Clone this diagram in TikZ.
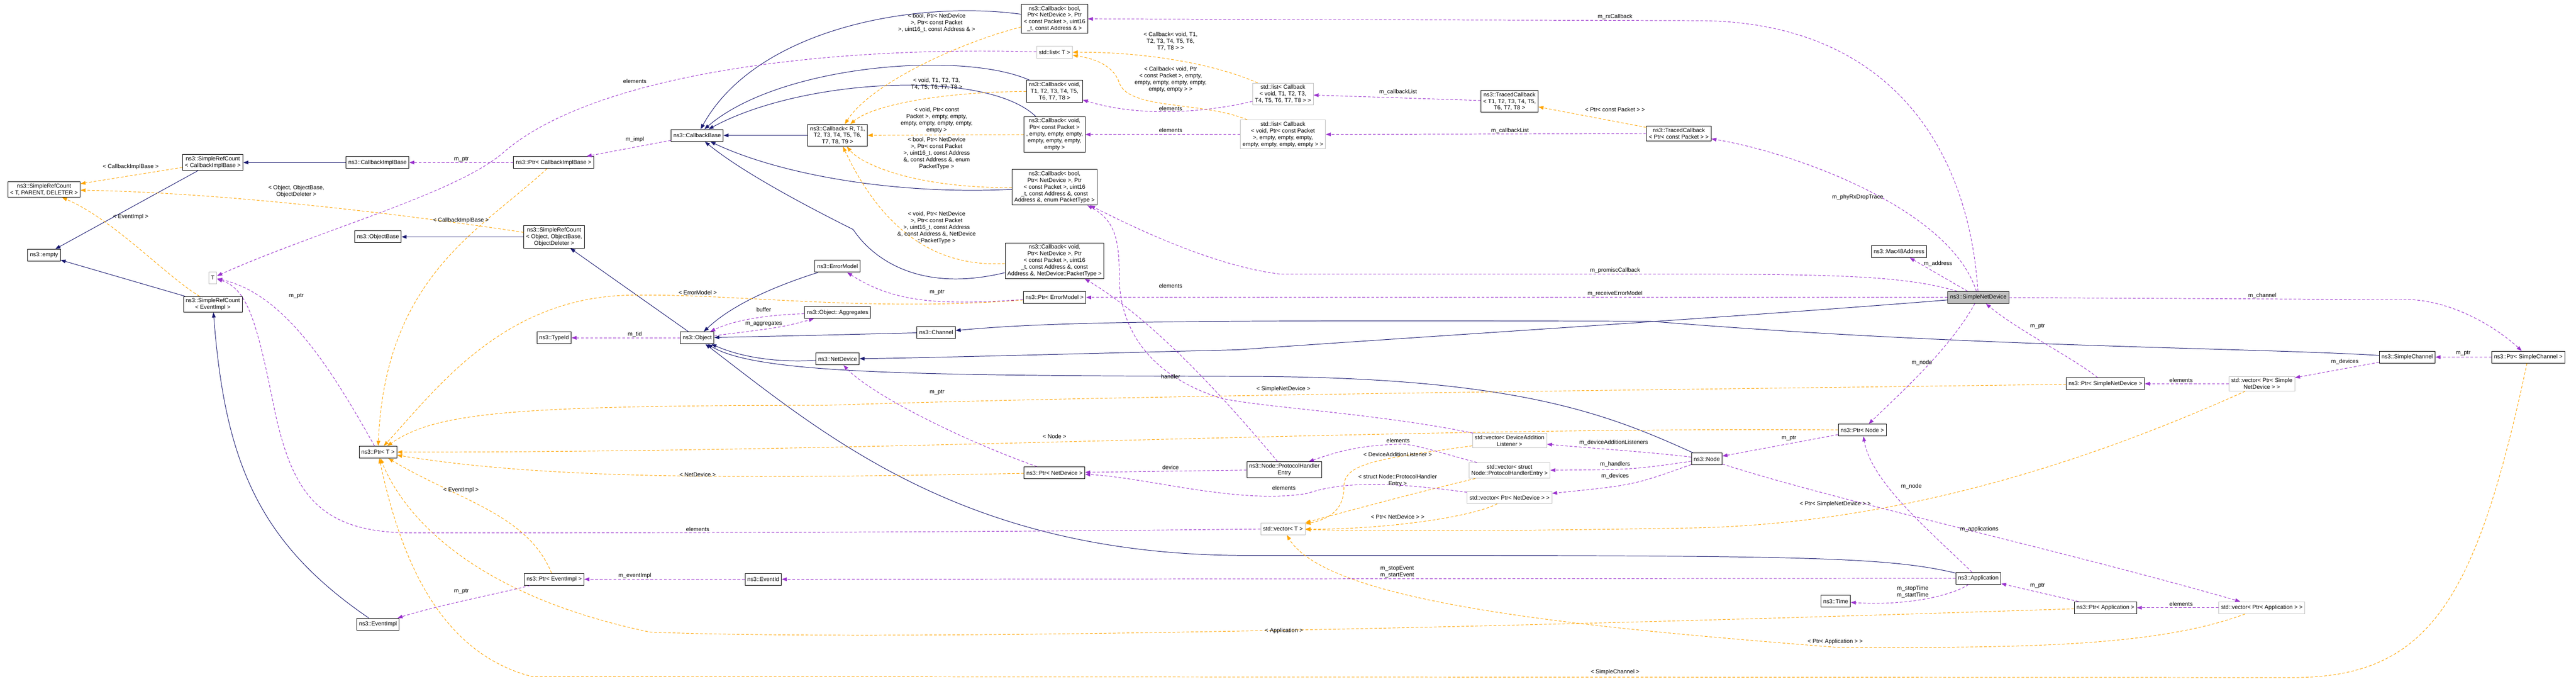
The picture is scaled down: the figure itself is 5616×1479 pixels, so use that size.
\documentclass[tikz,border=0pt]{standalone}
\usepackage{fontspec}
\setmainfont{Liberation Sans}
\usetikzlibrary{arrows.meta}
\definecolor{inhc}{HTML}{191970}
\definecolor{memc}{HTML}{9A32CD}
\definecolor{tplc}{HTML}{FFA500}
\definecolor{gbd}{HTML}{BFBFBF}
\tikzset{
  box/.style={draw=black,line width=1.1pt,fill=white,font=\fontsize{12.5}{14.5}\selectfont,align=center,inner xsep=5pt,inner ysep=4pt,minimum height=26pt},
  gbox/.style={box,draw=gbd},
  lbl/.style={font=\fontsize{12.5}{14.5}\selectfont,align=center,inner sep=0pt},
  inh/.style={draw=inhc,line width=1.1pt,-{Triangle[length=11pt,width=8pt]}},
  mem/.style={draw=memc,line width=1.1pt,dash pattern=on 6pt off 4pt,-{Triangle[length=11pt,width=8pt]}},
  tpl/.style={draw=tplc,line width=1.1pt,dash pattern=on 6pt off 4pt,-{Triangle[length=11pt,width=8pt]}},
}
\begin{document}
\begin{tikzpicture}[x=1pt,y=-1pt]
\useasboundingbox (0,0) rectangle (5616,1479);
% nodes
\node[box] (srcT) at (96,413) {ns3::SimpleRefCount\\< T, PARENT, DELETER >};
\node[box] (srcCIB) at (464,354) {ns3::SimpleRefCount\\< CallbackImplBase >};
\node[box] (cib) at (823,354) {ns3::CallbackImplBase};
\node[box] (empty) at (96,556) {ns3::empty};
\node[gbox] (T) at (464,605) {T};
\node[box] (srcEv) at (464,663) {ns3::SimpleRefCount\\< EventImpl >};
\node[box] (evimpl) at (824,1360) {ns3::EventImpl};
\node[box] (objbase) at (824,516) {ns3::ObjectBase};
\node[box] (ptrT) at (824,985) {ns3::Ptr< T >};
\node[box] (cbbase) at (1520,295) {ns3::CallbackBase};
\node[box] (ptrCIB) at (1207,354) {ns3::Ptr< CallbackImplBase >};
\node[box] (srcObj) at (1208,516) {ns3::SimpleRefCount\\< Object, ObjectBase,\\ObjectDeleter >};
\node[box] (typeid) at (1208,736) {ns3::TypeId};
\node[box] (object) at (1520,736) {ns3::Object};
\node[box] (errm) at (1826,580) {ns3::ErrorModel};
\node[box] (aggr) at (1826,681) {ns3::Object::Aggregates};
\node[box] (netdev) at (1826,782) {ns3::NetDevice};
\node[box] (ptrEv) at (1208,1262) {ns3::Ptr< EventImpl >};
\node[box] (eventid) at (1664,1262) {ns3::EventId};
\node[box] (cbR) at (1826,295) {ns3::Callback< R, T1,\\T2, T3, T4, T5, T6,\\T7, T8, T9 >};
\node[box] (cbRx) at (2299,41) {ns3::Callback< bool,\\Ptr< NetDevice >, Ptr\\< const Packet >, uint16\\\_t, const Address \& >};
\node[gbox] (listT) at (2299,114) {std::list< T >};
\node[box] (cbVT) at (2299,199) {ns3::Callback< void,\\T1, T2, T3, T4, T5,\\T6, T7, T8 >};
\node[box] (cbVP) at (2299,293) {ns3::Callback< void,\\Ptr< const Packet >\\, empty, empty, empty,\\empty, empty, empty,\\empty >};
\node[box] (cbBE) at (2299,408) {ns3::Callback< bool,\\Ptr< NetDevice >, Ptr\\< const Packet >, uint16\\\_t, const Address \&, const\\Address \&, enum PacketType >};
\node[box] (cbVN) at (2299,568) {ns3::Callback< void,\\Ptr< NetDevice >, Ptr\\< const Packet >, uint16\\\_t, const Address \&, const\\Address \&, NetDevice::PacketType >};
\node[box] (ptrErr) at (2299,648) {ns3::Ptr< ErrorModel >};
\node[box] (channel) at (2041,724) {ns3::Channel};
\node[box] (ptrND) at (2299,1030) {ns3::Ptr< NetDevice >};
\node[gbox] (listVT) at (2797,205) {std::list< Callback\\< void, T1, T2, T3,\\T4, T5, T6, T7, T8 > >};
\node[gbox] (listVP) at (2797,293) {std::list< Callback\\< void, Ptr< const Packet\\>, empty, empty, empty,\\empty, empty, empty, empty > >};
\node[box] (tcT) at (3291,221) {ns3::TracedCallback\\< T1, T2, T3, T4, T5,\\T6, T7, T8 >};
\node[box] (tcP) at (3660,291) {ns3::TracedCallback\\< Ptr< const Packet > >};
\node[gbox] (vecDAL) at (3291,960) {std::vector< DeviceAddition\\Listener >};
\node[box] (phe) at (2800,1023) {ns3::Node::ProtocolHandler\\Entry};
\node[gbox] (vecPHE) at (3291,1025) {std::vector< struct\\Node::ProtocolHandlerEntry >};
\node[gbox] (vecND) at (3291,1084) {std::vector< Ptr< NetDevice > >};
\node[gbox] (vecT) at (2797,1152) {std::vector< T >};
\node[box] (node) at (3721,1000) {ns3::Node};
\node[box] (timeN) at (4002,1310) {ns3::Time};
\node[box,fill=gbd] (snd) at (4313,648) {ns3::SimpleNetDevice};
\node[box] (mac) at (4140,548) {ns3::Mac48Address};
\node[box] (ptrNode) at (4060,937) {ns3::Ptr< Node >};
\node[box] (schan) at (5248,778) {ns3::SimpleChannel};
\node[box] (ptrSC) at (5512,778) {ns3::Ptr< SimpleChannel >};
\node[box] (ptrSND) at (4590,836) {ns3::Ptr< SimpleNetDevice >};
\node[gbox] (vecSND) at (4931,836) {std::vector< Ptr< Simple\\NetDevice > >};
\node[box] (app) at (4313,1260) {ns3::Application};
\node[box] (ptrApp) at (4590,1324) {ns3::Ptr< Application >};
\node[gbox] (vecApp) at (4931,1324) {std::vector< Ptr< Application > >};
% inheritance
\draw[inh] (cib) -- (srcCIB);
\draw[inh] (srcCIB) -- (empty);
\draw[inh] (srcEv) -- (empty);
\draw[inh] (evimpl) .. controls (560,1180) and (490,1000) .. (srcEv);
\draw[inh] (srcObj) -- (objbase);
\draw[inh] (object) -- (srcObj);
\draw[inh] (errm) .. controls (1700,620) and (1600,660) .. (object);
\draw[inh] (channel) .. controls (1800,730) .. (object);
\draw[inh] (netdev) .. controls (1700,790) and (1620,780) .. (object);
\draw[inh] (node) .. controls (3500,900) and (3300,820) .. (2700,820) .. controls (2000,818) and (1650,815) .. (object);
\draw[inh] (app) .. controls (4100,1210) and (3900,1210) .. (2700,1210) .. controls (2100,1205) and (1800,950) .. (object);
\draw[inh] (schan) .. controls (4900,757) and (4300,757) .. (3600,700) .. controls (2600,697) and (2300,700) .. (channel);
\draw[inh] (snd) .. controls (3800,690) and (3000,740) .. (2700,762) .. controls (2300,772) and (2000,780) .. (netdev);
\draw[inh] (cbRx) .. controls (2000,0) and (1650,60) .. (cbbase);
\draw[inh] (cbVT) .. controls (2100,110) and (1700,140) .. (cbbase);
\draw[inh] (cbVP) .. controls (2150,150) and (1750,170) .. (cbbase);
\draw[inh] (cbR) -- (cbbase);
\draw[inh] (cbBE) .. controls (1950,425) and (1700,380) .. (cbbase);
\draw[inh] (cbVN) .. controls (2000,640) and (1900,560) .. (1860,500) .. controls (1700,420) and (1600,360) .. (cbbase);
% templates
\draw[tpl] (srcCIB) -- (srcT);
\draw[tpl] (srcObj) .. controls (900,470) and (500,420) .. (srcT);
\draw[tpl] (srcEv) .. controls (360,600) and (250,480) .. (srcT);
\draw[tpl] (ptrCIB) .. controls (1050,500) and (840,600) .. (ptrT);
\draw[tpl] (ptrErr) .. controls (1900,680) and (1600,640) .. (1390,643) .. controls (1100,640) and (950,850) .. (ptrT);
\draw[tpl] (ptrEv) .. controls (1150,1120) and (1000,1090) .. (ptrT);
\draw[tpl] (ptrND) .. controls (1600,1043) and (1200,1045) .. (ptrT);
\draw[tpl] (ptrNode) .. controls (3000,930) and (2000,985) .. (ptrT);
\draw[tpl] (ptrSND) .. controls (3600,850) and (2500,860) .. (1800,883) .. controls (1100,883) and (950,900) .. (ptrT);
\draw[tpl] (ptrApp) .. controls (3500,1360) and (2000,1400) .. (1417,1377) .. controls (1000,1290) and (870,1100) .. (ptrT);
\draw[tpl] (ptrSC) .. controls (5400,1300) and (5300,1476) .. (5000,1476) -- (1160,1474) .. controls (950,1420) and (870,1200) .. (ptrT);
\draw[tpl] (cbRx) .. controls (2100,90) and (1900,180) .. (cbR);
\draw[tpl] (cbVT) .. controls (2050,200) and (1900,230) .. (cbR);
\draw[tpl] (cbVP) -- (cbR);
\draw[tpl] (cbBE) .. controls (2000,410) and (1880,360) .. (cbR);
\draw[tpl] (cbVN) .. controls (2000,585) and (1900,450) .. (cbR);
\draw[tpl] (listVT) .. controls (2650,140) and (2500,113) .. (listT);
\draw[tpl] (listVP) .. controls (2620,220) and (2460,240) .. (2440,180) .. controls (2430,150) and (2400,130) .. (listT);
\draw[tpl] (tcP) -- (tcT);
\draw[tpl] (vecPHE) .. controls (3100,1070) and (2950,1110) .. (vecT);
\draw[tpl] (vecND) .. controls (3200,1130) and (3000,1154) .. (vecT);
\draw[tpl] (vecSND) .. controls (4500,1030) and (4100,1140) .. (3700,1150) .. controls (3300,1157) and (3000,1158) .. (vecT);
\draw[tpl] (vecApp) .. controls (4700,1410) and (4400,1412) .. (4000,1410) .. controls (3500,1370) and (2900,1320) .. (vecT);
\draw[tpl] (vecDAL) .. controls (3000,1000) and (2930,1010) .. (2930,1060) .. controls (2930,1110) and (2900,1130) .. (vecT);
% members
\draw[mem] (ptrCIB) -- (cib);
\draw[mem] (cbbase) -- (ptrCIB);
\draw[mem] (listT) .. controls (1800,100) and (1300,160) .. (1100,330) .. controls (1000,420) and (700,500) .. (T);
\draw[mem] (vecT) .. controls (2000,1161) and (1200,1161) .. (900,1161) .. controls (700,1161) and (640,1080) .. (600,900) .. controls (560,700) and (540,630) .. (T);
\draw[mem] (ptrT) .. controls (720,800) and (620,640) .. (T);
\draw[mem] (object) -- (typeid);
\draw[mem] (aggr) .. controls (1646,687) and (1589,703) .. (object);
\draw[mem] (object) .. controls (1704,713) .. (aggr);
\draw[mem] (ptrErr) .. controls (2050,665) and (1950,660) .. (errm);
\draw[mem] (ptrEv) .. controls (1100,1290) and (950,1320) .. (evimpl);
\draw[mem] (eventid) -- (ptrEv);
\draw[mem] (ptrND) .. controls (2100,960) and (1900,860) .. (netdev);
\draw[mem] (listVT) .. controls (2650,240) and (2500,260) .. (cbVT);
\draw[mem] (listVP) -- (cbVP);
\draw[mem] (tcT) -- (listVT);
\draw[mem] (tcP) -- (listVP);
\draw[mem] (snd) .. controls (4290,300) and (4100,45) .. (3700,45) -- (cbRx);
\draw[mem] (snd) .. controls (4150,600) and (4000,597) .. (3600,597) -- (2790,597) .. controls (2650,580) and (2480,500) .. (cbBE);
\draw[mem] (snd) -- (ptrErr);
\draw[mem] (snd) .. controls (4250,450) and (3900,330) .. (tcP);
\draw[mem] (snd) -- (mac);
\draw[mem] (snd) -- (5260,653) .. controls (5360,660) and (5450,720) .. (ptrSC);
\draw[mem] (snd) .. controls (4250,760) and (4150,850) .. (ptrNode);
\draw[mem] (ptrSND) .. controls (4520,780) and (4400,720) .. (snd);
\draw[mem] (vecSND) -- (ptrSND);
\draw[mem] (schan) -- (vecSND);
\draw[mem] (ptrSC) -- (schan);
\draw[mem] (vecApp) -- (ptrApp);
\draw[mem] (ptrApp) -- (app);
\draw[mem] (app) -- (eventid);
\draw[mem] (app) .. controls (4250,1300) and (4150,1320) .. (timeN);
\draw[mem] (app) .. controls (4200,1150) and (4080,1050) .. (ptrNode);
\draw[mem] (ptrNode) -- (node);
\draw[mem] (node) .. controls (3600,985) and (3450,975) .. (vecDAL);
\draw[mem] (node) .. controls (3561,1023) .. (vecPHE);
\draw[mem] (node) .. controls (3561,1057) .. (vecND);
\draw[mem] (node) .. controls (4000,1090) and (4500,1200) .. (vecApp);
\draw[mem] (vecND) .. controls (3100,1060) and (2950,1040) .. (2850,1075) .. controls (2700,1100) and (2500,1040) .. (ptrND);
\draw[mem] (vecPHE) .. controls (3150,990) and (3080,965) .. (3050,968) .. controls (2950,970) and (2900,990) .. (phe);
\draw[mem] (vecDAL) .. controls (3000,900) and (2750,888) .. (2660,867) .. controls (2450,800) and (2440,650) .. (2440,600) .. controls (2440,520) and (2430,480) .. (cbBE);
\draw[mem] (phe) .. controls (2680,880) and (2520,700) .. (cbVN);
\draw[mem] (phe) -- (ptrND);
% labels
\node[lbl] (l1) at (285,363) {< CallbackImplBase >};
\node[lbl] (l2) at (646,417) {< Object, ObjectBase,\\ObjectDeleter >};
\node[lbl] (l3) at (285,472) {< EventImpl >};
\node[lbl] (l4) at (646,645) {m\_ptr};
\node[lbl] (l5) at (1384,177) {elements};
\node[lbl] (l6) at (1384,304) {m\_impl};
\node[lbl] (l7) at (1006,347) {m\_ptr};
\node[lbl] (l8) at (1005,480) {< CallbackImplBase >};
\node[lbl] (l9) at (1521,637) {< ErrorModel >};
\node[lbl] (l10) at (1665,675) {buffer};
\node[lbl] (l11) at (1665,705) {m\_aggregates};
\node[lbl] (l12) at (1384,728) {m\_tid};
\node[lbl] (l13) at (1521,1034) {< NetDevice >};
\node[lbl] (l14) at (1005,1068) {< EventImpl >};
\node[lbl] (l15) at (1521,1153) {elements};
\node[lbl] (l16) at (1384,1254) {m\_eventImpl};
\node[lbl] (l17) at (1006,1288) {m\_ptr};
\node[lbl] (l18) at (2042,50) {< bool, Ptr< NetDevice\\>, Ptr< const Packet\\>, uint16\_t, const Address \& >};
\node[lbl] (l19) at (2552,90) {< Callback< void, T1,\\T2, T3, T4, T5, T6,\\T7, T8 > >};
\node[lbl] (l20) at (2042,183) {< void, T1, T2, T3,\\T4, T5, T6, T7, T8 >};
\node[lbl] (l21) at (2552,173) {< Callback< void, Ptr\\< const Packet >, empty,\\empty, empty, empty, empty,\\empty, empty > >};
\node[lbl] (l22) at (2552,236) {elements};
\node[lbl] (l23) at (2042,262) {< void, Ptr< const\\Packet >, empty, empty,\\empty, empty, empty, empty,\\empty >};
\node[lbl] (l24) at (2552,284) {elements};
\node[lbl] (l25) at (2042,334) {< bool, Ptr< NetDevice\\>, Ptr< const Packet\\>, uint16\_t, const Address\\\&, const Address \&, enum\\PacketType >};
\node[lbl] (l26) at (2042,496) {< void, Ptr< NetDevice\\>, Ptr< const Packet\\>, uint16\_t, const Address\\\&, const Address \&, NetDevice\\::PacketType >};
\node[lbl] (l27) at (2043,637) {m\_ptr};
\node[lbl] (l28) at (2552,623) {elements};
\node[lbl] (l29) at (2552,820) {handler};
\node[lbl] (l30) at (2043,855) {m\_ptr};
\node[lbl] (l31) at (2299,951) {< Node >};
\node[lbl] (l32) at (3521,37) {m\_rxCallback};
\node[lbl] (l33) at (3048,201) {m\_callbackList};
\node[lbl] (l34) at (3521,239) {< Ptr< const Packet > >};
\node[lbl] (l35) at (3292,285) {m\_callbackList};
\node[lbl] (l36) at (3521,589) {m\_promiscCallback};
\node[lbl] (l37) at (3521,640) {m\_receiveErrorModel};
\node[lbl] (l38) at (2798,848) {< SimpleNetDevice >};
\node[lbl] (l39) at (3048,960) {elements};
\node[lbl] (l40) at (3047,990) {< DeviceAdditionListener >};
\node[lbl] (l41) at (3518,964) {m\_deviceAdditionListeners};
\node[lbl] (l42) at (3521,1011) {m\_handlers};
\node[lbl] (l43) at (3521,1037) {m\_devices};
\node[lbl] (l44) at (3047,1047) {< struct Node::ProtocolHandler\\Entry >};
\node[lbl] (l45) at (2799,1063) {elements};
\node[lbl] (l46) at (3047,1126) {< Ptr< NetDevice > >};
\node[lbl] (l47) at (4001,1098) {< Ptr< SimpleNetDevice > >};
\node[lbl] (l48) at (4167,1060) {m\_node};
\node[lbl] (l49) at (3046,1246) {m\_stopEvent\\m\_startEvent};
\node[lbl] (l50) at (4170,1290) {m\_stopTime\\m\_startTime};
\node[lbl] (l51) at (2799,1374) {< Application >};
\node[lbl] (l52) at (4001,1398) {< Ptr< Application > >};
\node[lbl] (l53) at (3521,1464) {< SimpleChannel >};
\node[lbl] (l54) at (4932,644) {m\_channel};
\node[lbl] (l55) at (4442,711) {m\_ptr};
\node[lbl] (l56) at (5112,788) {m\_devices};
\node[lbl] (l57) at (5370,769) {m\_ptr};
\node[lbl] (l58) at (4755,828) {elements};
\node[lbl] (l59) at (4315,1153) {m\_applications};
\node[lbl] (l60) at (4442,1276) {m\_ptr};
\node[lbl] (l61) at (4755,1316) {elements};
\node[lbl] (l62) at (4050,430) {m\_phyRxDropTrace};
\node[lbl] (l63) at (4225,575) {m\_address};
\node[lbl] (l64) at (4190,790) {m\_node};
\node[lbl] (l65) at (3900,955) {m\_ptr};
\node[lbl] (l66) at (2552,1018) {device};
\end{tikzpicture}
\end{document}
